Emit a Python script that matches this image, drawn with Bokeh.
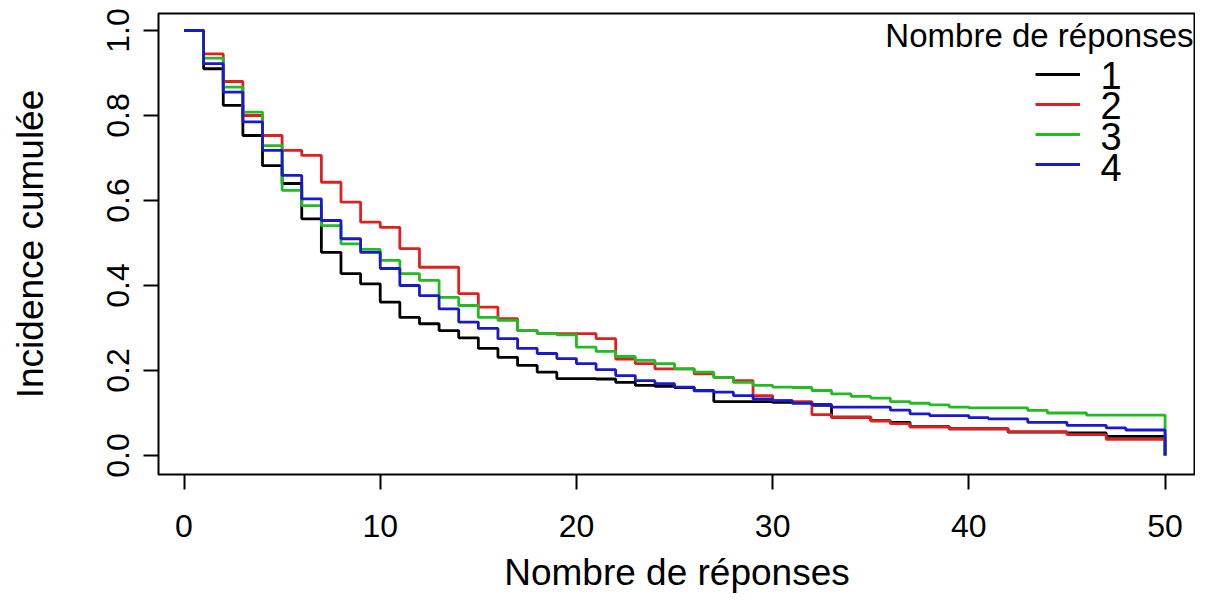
import math
from bokeh.plotting import figure
from bokeh.models import (FixedTicker, Legend, LegendItem, Label, Range1d)
from bokeh.embed import file_html
from bokeh.resources import INLINE

# ---- data ----
steps = list(range(0, 51))  # x positions of steps (0..50)

black_1 = [1.0, 0.91, 0.824, 0.753, 0.682, 0.64, 0.557, 0.478, 0.428, 0.404,
           0.361, 0.325, 0.31, 0.294, 0.277, 0.252, 0.231, 0.212, 0.196, 0.181,
           0.181, 0.18, 0.172, 0.165, 0.163, 0.16, 0.152, 0.127, 0.127, 0.127,
           0.125, 0.125, 0.118, 0.09, 0.09, 0.082, 0.078, 0.068, 0.068, 0.063,
           0.063, 0.063, 0.055, 0.055, 0.055, 0.053, 0.053, 0.045, 0.045, 0.045,
           0.0]
red_2 = [1.0, 0.945, 0.88, 0.80, 0.753, 0.718, 0.706, 0.643, 0.596, 0.549,
         0.537, 0.487, 0.443, 0.443, 0.381, 0.349, 0.322, 0.294, 0.287, 0.287,
         0.287, 0.275, 0.227, 0.216, 0.204, 0.204, 0.192, 0.184, 0.176, 0.141,
         0.129, 0.127, 0.096, 0.09, 0.09, 0.081, 0.075, 0.067, 0.067, 0.063,
         0.063, 0.063, 0.056, 0.056, 0.056, 0.049, 0.049, 0.038, 0.038, 0.038,
         0.0]
green_3 = [1.0, 0.935, 0.867, 0.808, 0.729, 0.624, 0.588, 0.541, 0.498, 0.485,
           0.459, 0.428, 0.412, 0.372, 0.353, 0.325, 0.318, 0.294, 0.287, 0.284,
           0.255, 0.245, 0.233, 0.224, 0.216, 0.204, 0.196, 0.184, 0.172, 0.165,
           0.161, 0.16, 0.153, 0.145, 0.139, 0.135, 0.127, 0.123, 0.119, 0.114,
           0.112, 0.112, 0.112, 0.106, 0.1, 0.1, 0.095, 0.095, 0.095, 0.095,
           0.0]
blue_4 = [1.0, 0.922, 0.855, 0.785, 0.718, 0.659, 0.604, 0.553, 0.51, 0.478,
          0.44, 0.40, 0.376, 0.345, 0.314, 0.299, 0.275, 0.252, 0.24, 0.228,
          0.216, 0.202, 0.188, 0.176, 0.169, 0.161, 0.153, 0.149, 0.141, 0.133,
          0.129, 0.123, 0.12, 0.114, 0.114, 0.114, 0.107, 0.098, 0.094, 0.094,
          0.089, 0.086, 0.086, 0.078, 0.078, 0.071, 0.071, 0.065, 0.06, 0.06,
          0.0]

series_names = ["1", "2", "3", "4"]
series_values = [black_1, red_2, green_3, blue_4]
series_colors = ["#000000", "#e02020", "#22bb22", "#1a1acc"]

x_ticks = [0, 10, 20, 30, 40, 50]
y_ticks = [0.0, 0.2, 0.4, 0.6, 0.8, 1.0]
y_tick_labels = ["0.0", "0.2", "0.4", "0.6", "0.8", "1.0"]

x_title = "Nombre de réponses"
y_title = "Incidence cumulée"
legend_title = "Nombre de réponses"

FONT = "Liberation Sans"

p = figure(width=1195, height=596, output_backend="svg", toolbar_location=None,
           x_range=Range1d(-1.30, 51.55), y_range=Range1d(-0.0447, 1.04),
           min_border_left=158, min_border_right=0, min_border_top=13,
           min_border_bottom=122)
p.background_fill_color = "white"
p.border_fill_color = "white"
p.outline_line_color = "black"
p.outline_line_width = 2
p.grid.visible = False

renderers = []
for name, vals, col in zip(series_names, series_values, series_colors):
    r = p.step(steps, vals, mode="after", line_color=col, line_width=2.8)
    renderers.append(r)

for ax in (p.xaxis[0], p.yaxis[0]):
    ax.axis_line_color = None
    ax.major_tick_in = 0
    ax.major_tick_out = 15
    ax.major_tick_line_width = 2
    ax.major_tick_line_color = "black"
    ax.minor_tick_line_color = None
    ax.major_label_text_font = FONT
    ax.major_label_text_font_size = "32px"
    ax.major_label_text_color = "black"
    ax.axis_label_text_font = FONT
    ax.axis_label_text_font_size = "37px"
    ax.axis_label_text_font_style = "normal"
    ax.axis_label_text_color = "black"

p.xaxis.ticker = FixedTicker(ticks=x_ticks)
p.yaxis.ticker = FixedTicker(ticks=y_ticks)
p.yaxis.major_label_overrides = {t: l for t, l in zip(y_ticks, y_tick_labels)}
p.yaxis.major_label_orientation = "parallel"
p.xaxis.major_label_standoff = 25
p.yaxis.major_label_standoff = 14
p.xaxis.axis_label = x_title
p.yaxis.axis_label = y_title
p.xaxis.axis_label_standoff = 12
p.yaxis.axis_label_standoff = 54

# legend: line samples from Bokeh's Legend, big stacked digits as labels
legend = Legend(items=[LegendItem(label="", renderers=[r]) for r in renderers],
                location=(877, 295), orientation="vertical",
                padding=0, margin=0, spacing=0,
                glyph_width=45, glyph_height=30, label_height=30,
                label_standoff=0, label_width=0,
                label_text_font=FONT, label_text_font_size="1px",
                border_line_color=None, background_fill_alpha=0)
p.add_layout(legend, "center")

legend_label_y = [0.894, 0.8235, 0.75, 0.678]
for name, ly in zip(series_names, legend_label_y):
    p.add_layout(Label(x=46.71, y=ly, text=name, text_align="left",
                       text_baseline="middle", text_font=FONT,
                       text_font_size="38px", text_color="black"))

p.add_layout(Label(x=51.45, y=0.988, text=legend_title,
                   text_align="right", text_baseline="middle",
                   text_font=FONT, text_font_size="33px", text_color="black"))

open("out.html", "w").write(file_html(p, INLINE))
